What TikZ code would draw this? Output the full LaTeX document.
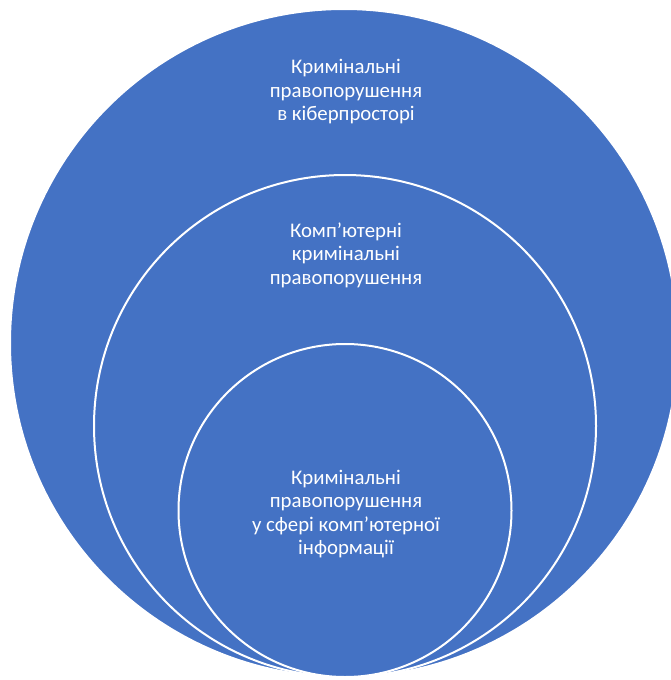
\documentclass[tikz,border=0pt]{standalone}
\usepackage{fontspec}
\setmainfont{Carlito}
\definecolor{ringblue}{HTML}{4472C4}
\tikzset{
  ring/.style={circle, fill=ringblue, draw=white, line width=2pt, inner sep=0pt, outer sep=0pt},
  lbl/.style={text=white, align=center, inner sep=0pt, font=\fontsize{20.8pt}{23.5pt}\selectfont}
}
\begin{document}
\begin{tikzpicture}[x=1pt, y=-1pt]
\clip (0,0) rectangle (671,680);
\useasboundingbox (0,0) rectangle (671,680);
\node[ring, minimum size=668pt] (outer) at (344,343) {};
\node[ring, minimum size=502pt] (middle) at (345,426) {};
\node[ring, minimum size=333pt] (inner) at (345,510.5) {};
\node[lbl] (t1) at (346,92) {Кримінальні\\правопорушення\\в кіберпросторі};
\node[lbl] (t2) at (346,255) {Комп’ютерні\\кримінальні\\правопорушення};
\node[lbl] (t3) at (346,514) {Кримінальні\\правопорушення\\у сфері комп’ютерної\\інформації};
\end{tikzpicture}
\end{document}
